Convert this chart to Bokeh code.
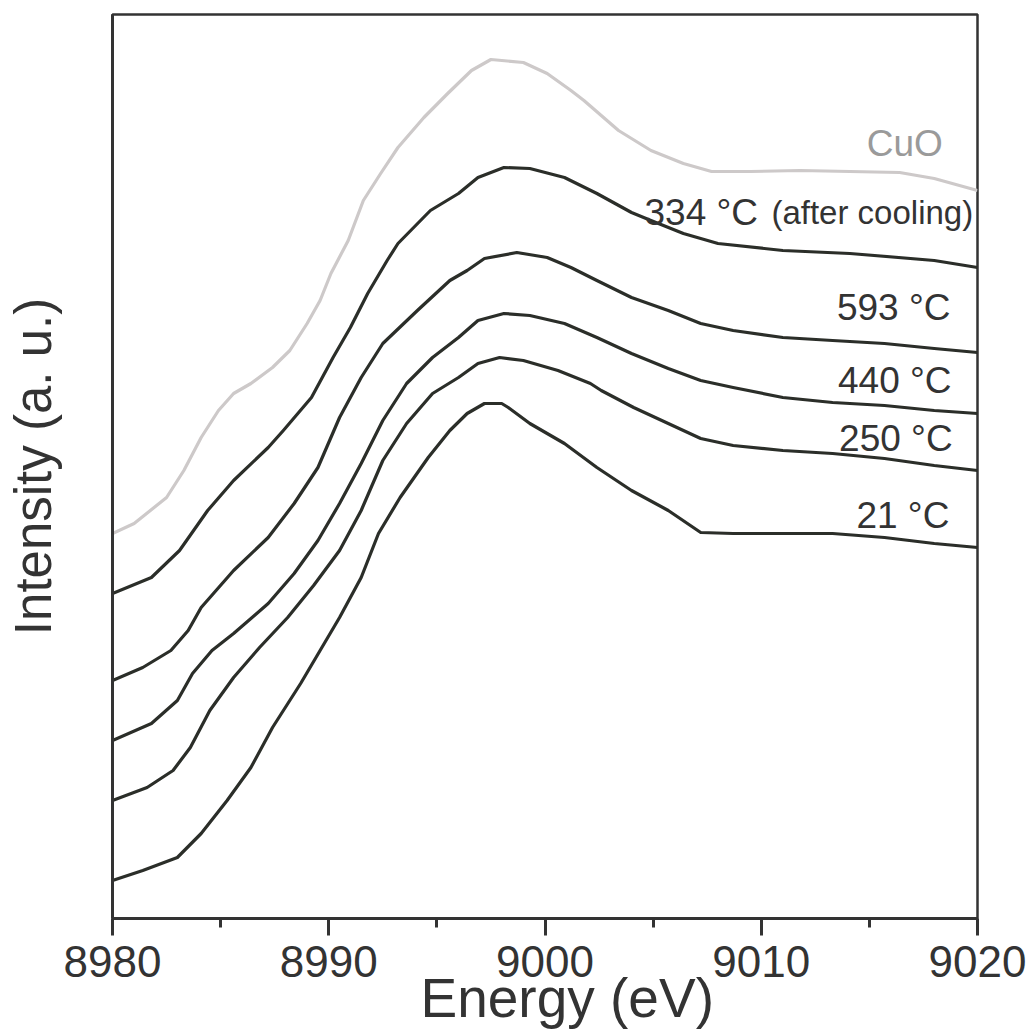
import math
from bokeh.plotting import figure
from bokeh.models import Range1d, FixedTicker, Label, Title
from bokeh.embed import file_html
from bokeh.resources import INLINE

# ---- data ----
cuo_e = [8980.0, 8981.0, 8982.5, 8983.3, 8984.1, 8984.9, 8985.6, 8986.4, 8987.4, 8988.2,
         8989.0, 8989.6, 8990.1, 8990.9, 8991.6, 8992.4, 8993.2, 8994.4, 8995.5, 8996.6,
         8997.5, 8999.0, 9000.1, 9001.2, 9001.8, 9003.4, 9004.9, 9006.4, 9007.7, 9009.5,
         9011.8, 9014.1, 9016.4, 9018.0, 9020.0]
cuo_i = [3.85, 3.95, 4.21, 4.48, 4.81, 5.08, 5.25, 5.35, 5.51, 5.68,
         5.95, 6.18, 6.45, 6.78, 7.18, 7.45, 7.71, 8.01, 8.25, 8.48,
         8.59, 8.56, 8.45, 8.28, 8.18, 7.88, 7.68, 7.55, 7.47, 7.47,
         7.48, 7.47, 7.46, 7.40, 7.28]

t334_e = [8980.0, 8981.8, 8983.1, 8984.4, 8985.6, 8987.2, 8987.9, 8989.2, 8990.2, 8991.0,
          8991.8, 8992.7, 8993.2, 8994.7, 8996.0, 8996.9, 8998.1, 8999.3, 9000.9, 9002.4,
          9004.0, 9004.9, 9006.4, 9008.0, 9011.0, 9014.1, 9018.0, 9020.0]
t334_i = [3.25, 3.41, 3.68, 4.08, 4.38, 4.71, 4.88, 5.21, 5.61, 5.91,
          6.25, 6.58, 6.75, 7.08, 7.25, 7.41, 7.51, 7.50, 7.41, 7.25,
          7.06, 6.98, 6.85, 6.75, 6.68, 6.65, 6.58, 6.51]

t593_e = [8980.0, 8981.4, 8982.7, 8983.5, 8984.1, 8985.6, 8987.2, 8988.4, 8989.5, 8990.5,
          8991.5, 8992.5, 8994.1, 8995.6, 8996.4, 8997.2, 8998.7, 9000.1, 9001.2, 9002.4,
          9004.0, 9005.7, 9007.2, 9008.7, 9011.0, 9013.3, 9015.7, 9018.0, 9020.0]
t593_i = [2.38, 2.51, 2.68, 2.88, 3.11, 3.48, 3.81, 4.15, 4.51, 5.01,
          5.41, 5.75, 6.08, 6.38, 6.48, 6.60, 6.66, 6.61, 6.51, 6.38,
          6.21, 6.08, 5.95, 5.88, 5.81, 5.78, 5.75, 5.70, 5.66]

t440_e = [8980.0, 8981.8, 8983.0, 8983.7, 8984.6, 8985.6, 8987.2, 8988.4, 8989.5, 8990.5,
          8991.5, 8992.5, 8993.6, 8994.8, 8996.0, 8996.9, 8998.1, 8999.3, 9000.9, 9002.4,
          9004.0, 9005.7, 9007.2, 9008.7, 9011.0, 9013.3, 9015.7, 9018.0, 9020.0]
t440_i = [1.78, 1.95, 2.18, 2.45, 2.68, 2.85, 3.15, 3.45, 3.78, 4.15,
          4.55, 4.98, 5.35, 5.61, 5.81, 5.98, 6.05, 6.03, 5.95, 5.81,
          5.65, 5.50, 5.38, 5.31, 5.21, 5.16, 5.13, 5.08, 5.05]

t250_e = [8980.0, 8981.6, 8982.8, 8983.6, 8984.5, 8985.6, 8986.8, 8988.1, 8989.3, 8990.5,
          8991.5, 8992.5, 8993.6, 8994.8, 8996.0, 8996.9, 8997.9, 8999.0, 9000.6, 9002.1,
          9002.6, 9004.1, 9005.7, 9007.2, 9008.7, 9011.0, 9013.3, 9015.7, 9018.0, 9020.0]
t250_i = [1.18, 1.31, 1.48, 1.71, 2.08, 2.41, 2.71, 3.01, 3.33, 3.68,
          4.08, 4.58, 4.95, 5.25, 5.41, 5.55, 5.61, 5.58, 5.48, 5.35,
          5.28, 5.11, 4.95, 4.80, 4.73, 4.68, 4.65, 4.60, 4.53, 4.48]

t21_e = [8980.0, 8981.4, 8983.0, 8984.1, 8985.3, 8986.4, 8987.4, 8988.7, 8989.6, 8990.5,
         8991.5, 8992.3, 8993.3, 8994.6, 8995.6, 8996.4, 8997.2, 8998.0, 8998.3, 8999.3,
         9000.9, 9002.4, 9004.0, 9005.7, 9007.2, 9008.7, 9011.0, 9013.3, 9015.7, 9018.0,
         9020.0]
t21_i = [0.38, 0.48, 0.61, 0.85, 1.18, 1.51, 1.91, 2.35, 2.68, 3.01,
         3.41, 3.85, 4.21, 4.61, 4.88, 5.05, 5.15, 5.15, 5.11, 4.95,
         4.75, 4.51, 4.28, 4.08, 3.86, 3.85, 3.85, 3.85, 3.81, 3.75,
         3.71]

x_ticks = [8980, 8990, 9000, 9010, 9020]
x_minor = [8985, 8995, 9005, 9015]

FONT = "Liberation Sans"
DARK = "#2b2e29"
GRAY_LINE = "#cdc9c9"
TXT = "#333333"

p = figure(width=1028, height=1031, output_backend="svg", toolbar_location=None,
           x_range=Range1d(8980, 9020), y_range=Range1d(0, 9.04),
           min_border_left=112, min_border_right=51, min_border_top=14, min_border_bottom=113)
p.grid.visible = False
p.outline_line_color = "#333333"
p.outline_line_width = 2.5
p.background_fill_color = "white"
p.border_fill_color = "white"

# x axis
xa = p.xaxis[0]
xa.ticker = FixedTicker(ticks=x_ticks, minor_ticks=x_minor)
xa.axis_line_width = 3
xa.axis_line_color = "#333333"
xa.major_tick_out = 17
xa.major_tick_in = 0
xa.minor_tick_out = 9
xa.minor_tick_in = 0
xa.major_tick_line_width = 3
xa.minor_tick_line_width = 3
xa.major_tick_line_color = "#333333"
xa.minor_tick_line_color = "#333333"
xa.major_label_text_font = FONT
xa.major_label_text_font_size = "44px"
xa.major_label_text_color = TXT
xa.major_label_standoff = 10

p.add_layout(Title(text="Energy (eV)", align="left", offset=308, standoff=-29,
                   text_font=FONT, text_font_size="55px", text_color=TXT,
                   text_font_style="normal"), "below")

# y axis
ya = p.yaxis[0]
ya.ticker = FixedTicker(ticks=[])
ya.axis_line_width = 3
ya.axis_line_color = "#333333"
ya.major_tick_line_color = None
ya.minor_tick_line_color = None
ya.axis_label = "Intensity (a. u.)"
ya.axis_label_text_font = FONT
ya.axis_label_text_font_size = "51px"
ya.axis_label_text_font_style = "normal"
ya.axis_label_text_color = TXT
ya.axis_label_standoff = 51

series = [
    (cuo_e, cuo_i, GRAY_LINE),
    (t334_e, t334_i, DARK),
    (t593_e, t593_i, DARK),
    (t440_e, t440_i, DARK),
    (t250_e, t250_i, DARK),
    (t21_e, t21_i, DARK),
]
for xs, ys, c in series:
    p.line(xs, ys, line_color=c, line_width=3.2, line_join="round")

def lab(x, y, text, size, color=TXT, align="right"):
    p.add_layout(Label(x=x, y=y, text=text, text_font=FONT, text_font_size=size,
                       text_color=color, text_align=align, text_baseline="alphabetic"))

lab(9018.4, 7.75, "CuO", "37px", color="#9a9a9a")
lab(9009.85, 7.06, "334 °C", "37px")
lab(9019.8, 7.06, "(after cooling)", "33px")
lab(9018.75, 6.11, "593 °C", "37px")
lab(9018.8, 5.38, "440 °C", "37px")
lab(9018.85, 4.80, "250 °C", "37px")
lab(9018.7, 4.03, "21 °C", "37px")

open("out.html", "w").write(file_html(p, INLINE))
